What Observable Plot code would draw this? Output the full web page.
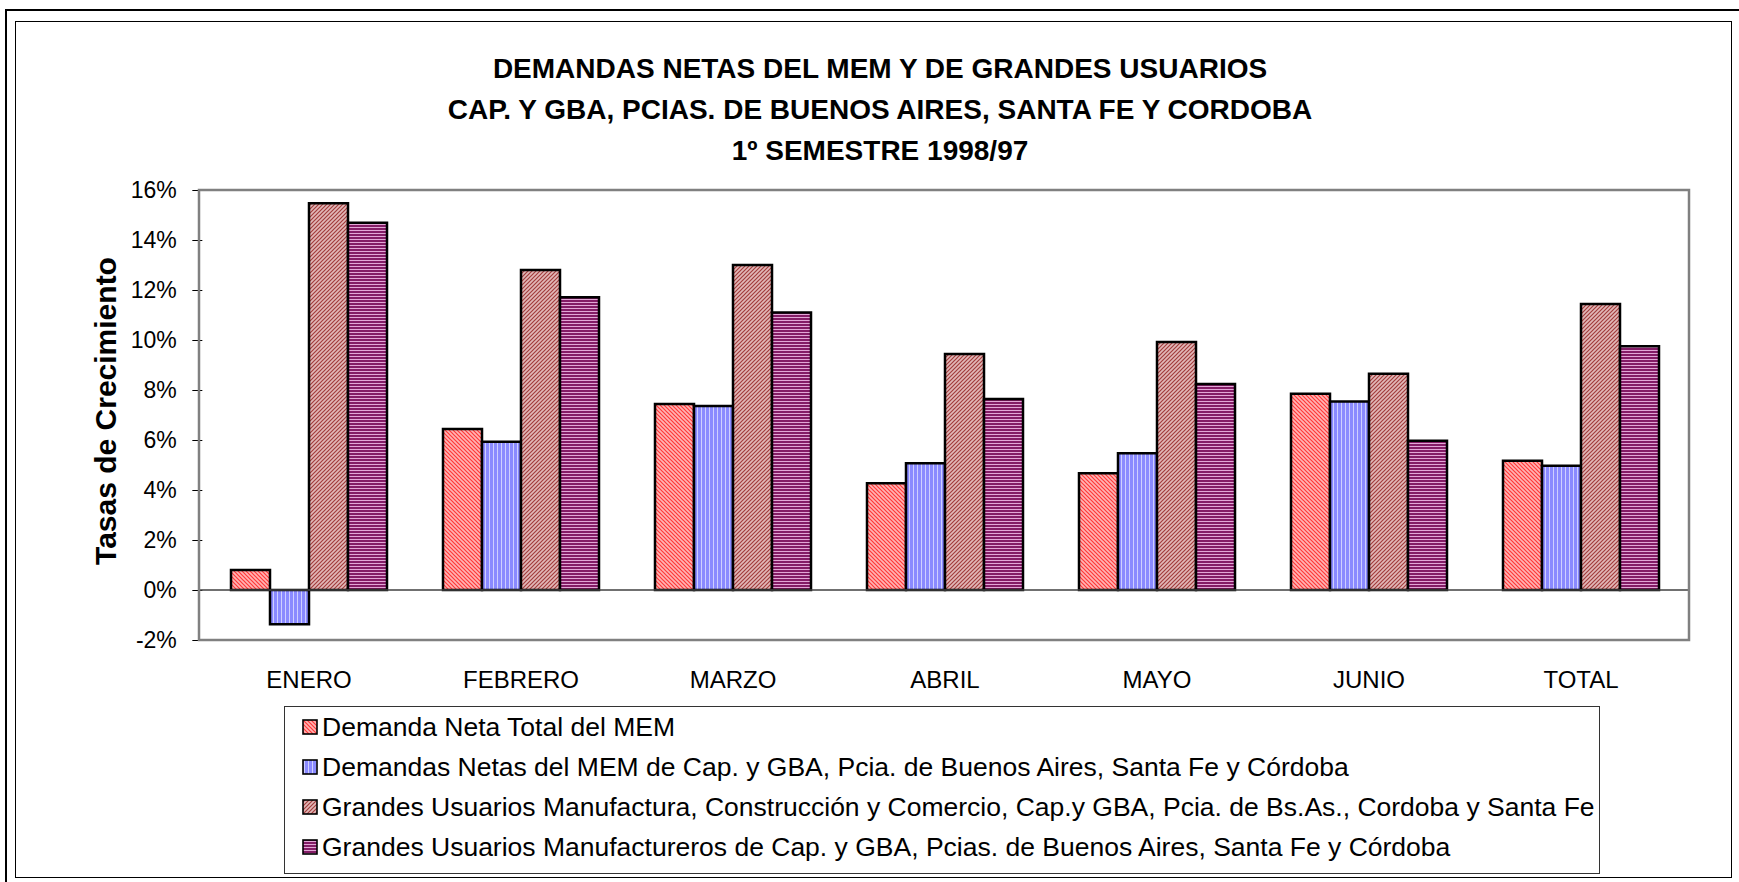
<!DOCTYPE html>
<html>
<head>
<meta charset="utf-8">
<script src="https://cdn.jsdelivr.net/npm/d3@7"></script>
<script src="https://cdn.jsdelivr.net/npm/@observablehq/plot@0.6"></script>
<style>
html, body { margin: 0; padding: 0; background: #fff; }
#page { position: relative; width: 1739px; height: 882px; overflow: hidden; background: #fff;
  font-family: "Liberation Sans", Arial, sans-serif; color: #000; }
.frame { position: absolute; box-sizing: border-box; border: 2px solid #000; }
#outer { left: 5px; top: 9px; width: 1760px; height: 900px; }
#inner { left: 15px; top: 21px; width: 1717px; height: 857px; border-width: 1.5px; }
#title { position: absolute; left: 280px; width: 1200px; top: 48px; text-align: center;
  font-weight: bold; font-size: 28px; line-height: 41px; white-space: nowrap; }
#ytitle { position: absolute; left: 106px; top: 411px; transform: translate(-50%, -50%) rotate(-90deg);
  font-weight: bold; font-size: 30px; white-space: nowrap; }
#chart { position: absolute; left: 0; top: 0; }
#legend { position: absolute; left: 284px; top: 706px; width: 1316px; height: 168px; box-sizing: border-box;
  border: 1.5px solid #333; background: #fff; padding-top: 0px; }
.lrow { height: 40px; display: flex; align-items: center; font-size: 26.5px; white-space: nowrap; }
.lrow svg { margin-left: 17px; margin-right: 4px; flex: none; }
</style>
</head>
<body>
<svg width="0" height="0" style="position:absolute">
  <defs>
    <pattern id="pRed" patternUnits="userSpaceOnUse" width="4" height="4">
      <rect width="4" height="4" fill="#ffb4b4"/>
      <path d="M0,0 L4,4 M-1,3 L1,5 M3,-1 L5,1" stroke="#ff3838" stroke-width="1.2"/>
    </pattern>
    <pattern id="pBlue" patternUnits="userSpaceOnUse" width="4" height="4">
      <rect width="4" height="4" fill="#8a8aff"/>
      <rect x="2" width="1" height="4" fill="#cfcfff"/>
    </pattern>
    <pattern id="pBrown" patternUnits="userSpaceOnUse" width="4" height="4">
      <rect width="4" height="4" fill="#e2b8b8"/>
      <path d="M0,4 L4,0 M-1,1 L1,-1 M3,5 L5,3" stroke="#a23c3c" stroke-width="1.2"/>
    </pattern>
    <pattern id="pPurple" patternUnits="userSpaceOnUse" width="4" height="3">
      <rect width="4" height="3" fill="#841c66"/>
      <rect y="2" width="4" height="1" fill="#e2a6d6"/>
    </pattern>
  </defs>
</svg>
<div id="page">
  <div id="outer" class="frame"></div>
  <div id="inner" class="frame"></div>
  <div id="title"></div>
  <div id="ytitle">Tasas de Crecimiento</div>
  <div id="chart"></div>
  <div id="legend"></div>
</div>
<script>
// ---- data ----
const categories = ["ENERO", "FEBRERO", "MARZO", "ABRIL", "MAYO", "JUNIO", "TOTAL"];
const seriesNames = [
  "Demanda Neta Total del MEM",
  "Demandas Netas del MEM de Cap. y GBA, Pcia. de Buenos Aires, Santa Fe y Córdoba",
  "Grandes Usuarios Manufactura, Construcción y Comercio, Cap.y GBA, Pcia. de Bs.As., Cordoba y Santa Fe",
  "Grandes Usuarios Manufactureros de Cap. y GBA, Pcias. de Buenos Aires, Santa Fe y Córdoba"
];
const demandaTotal      = [0.80, 6.44, 7.44, 4.27, 4.67, 7.85, 5.17];
const demandaRegion     = [-1.37, 5.93, 7.36, 5.07, 5.47, 7.54, 4.97];
const guManufConsCom    = [15.47, 12.80, 13.00, 9.44, 9.92, 8.65, 11.44];
const guManufactureros  = [14.69, 11.71, 11.10, 7.64, 8.24, 5.97, 9.75];
const yTicks = [-2, 0, 2, 4, 6, 8, 10, 12, 14, 16];
const titleLines = [
  "DEMANDAS NETAS DEL MEM Y DE GRANDES USUARIOS",
  "CAP. Y GBA, PCIAS. DE BUENOS AIRES, SANTA FE Y CORDOBA",
  "1º SEMESTRE 1998/97"
];
const seriesFills = ["url(#pRed)", "url(#pBlue)", "url(#pBrown)", "url(#pPurple)"];

// ---- table ----
const seriesValues = [demandaTotal, demandaRegion, guManufConsCom, guManufactureros];
const table = [];
categories.forEach((c, i) => {
  seriesNames.forEach((s, k) => table.push({cat: c, series: s, value: seriesValues[k][i]}));
});

// ---- title ----
document.getElementById("title").innerHTML = titleLines.map(t => `<div>${t}</div>`).join("");

// ---- chart ----
const W = 1739, H = 882, mL = 199, mR = 50, mT = 190, mB = 242;
const padIn = 0.26, padOut = 0.13;
const step = (W - mL - mR) / (categories.length - padIn + 2 * padOut);
const plot = Plot.plot({
  width: W, height: H,
  marginLeft: mL, marginRight: mR, marginTop: mT, marginBottom: mB,
  style: {fontFamily: "'Liberation Sans', Arial, sans-serif", fontSize: "24px", color: "#000", background: "transparent", overflow: "visible"},
  fx: {domain: categories, paddingInner: padIn, paddingOuter: padOut, label: null},
  x: {domain: seriesNames, axis: null, padding: 0},
  y: {domain: [-2, 16], label: null},
  color: {domain: seriesNames, range: seriesFills},
  marks: [
    // the y axis is anchored on the first facet; shift it back to the plot's left edge
    Plot.axisY({ticks: yTicks, tickFormat: d => d + "%", tickSize: 10, tickPadding: 16, fontSize: 23, label: null, dx: -step * padOut}),
    Plot.axisFx({anchor: "bottom", tickSize: 0, tickPadding: 30, fontSize: 24, label: null}),
    Plot.barY(table, {fx: "cat", x: "series", y: "value", fill: "series", stroke: "#000", strokeWidth: 2.5})
  ]
});
document.getElementById("chart").appendChild(plot);

// overlay zero line and plot frame using the plot's own y scale
const ys = plot.scale("y");
const svg = d3.select(plot);
svg.append("line")
  .attr("x1", mL).attr("x2", W - mR)
  .attr("y1", ys.apply(0)).attr("y2", ys.apply(0))
  .attr("stroke", "#404040").attr("stroke-width", 1.5);
svg.append("rect")
  .attr("x", mL).attr("y", ys.apply(16))
  .attr("width", W - mL - mR).attr("height", ys.apply(-2) - ys.apply(16))
  .attr("fill", "none").attr("stroke", "#808080").attr("stroke-width", 2.5);

// ---- legend ----
const legend = document.getElementById("legend");
seriesNames.forEach((s, k) => {
  const row = document.createElement("div");
  row.className = "lrow";
  row.innerHTML = `<svg width="16" height="16"><rect x="1" y="1" width="14" height="14" fill="${seriesFills[k]}" stroke="#000" stroke-width="1.6"/></svg><span>${s}</span>`;
  legend.appendChild(row);
});
</script>
</body>
</html>
